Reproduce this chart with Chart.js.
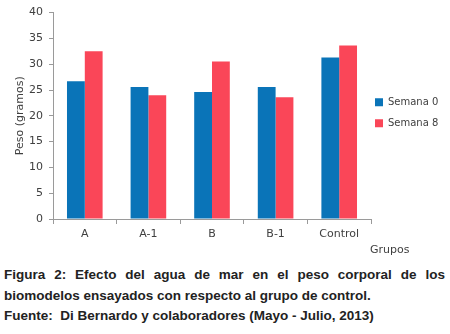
<!DOCTYPE html>
<html>
<head>
<meta charset="utf-8">
<script src="https://cdn.jsdelivr.net/npm/chart.js@4"></script>
<style>
    body { margin: 0; background: #fff; width: 450px; height: 334px; overflow: hidden; }
    #wrap { position: relative; width: 450px; height: 256px; }
    #grupos { position: absolute; left: 370px; top: 243px; font: 11px "DejaVu Sans", sans-serif; color: #404040; }
    #caption { font: bold 13.5px "Liberation Sans", Arial, sans-serif; color: #222; padding: 0 5px 0 4px; line-height: 20.5px; margin-top: 9px; }
    #caption .j { text-align: justify; text-align-last: justify; }
</style>
</head>
<body>
<div id="wrap">
    <canvas id="chart" width="450" height="256"></canvas>
    <div id="grupos">Grupos</div>
</div>
<div id="caption">
    <div class="j">Figura 2: Efecto del agua de mar en el peso corporal de los</div>
    <div>biomodelos ensayados con respecto al grupo de control.</div>
    <div>Fuente:&nbsp; Di Bernardo y colaboradores (Mayo - Julio, 2013)</div>
</div>
<script>
const groups = ['A', 'A-1', 'B', 'B-1', 'Control'];
const semana0 = [26.7, 25.6, 24.6, 25.6, 31.3];
const semana8 = [32.5, 24.0, 30.5, 23.6, 33.6];
const seriesNames = ['Semana 0', 'Semana 8'];

document.addEventListener('DOMContentLoaded', function() {
    const ctx = document.getElementById('chart');
    const textColor = '#404040';
    const axisColor = '#9a9a9a';

    // nudge the legend a bit closer to the plot, like the original
    const legendShift = {
        id: 'legendShift',
        beforeDraw: function(chart) {
            const lg = chart.legend;
            lg.left = chart.chartArea.right - 7;
            lg.top = chart.chartArea.top - 3;
            lg.bottom = chart.chartArea.bottom - 3;
        }
    };

    new Chart(ctx, {
        type: 'bar',
        data: {
            labels: groups,
            datasets: [{
                label: seriesNames[0],
                data: semana0,
                backgroundColor: '#0a74b8',
                categoryPercentage: 0.56,
                barPercentage: 1.0
            }, {
                label: seriesNames[1],
                data: semana8,
                backgroundColor: '#fa4658',
                categoryPercentage: 0.56,
                barPercentage: 1.0
            }]
        },
        plugins: [legendShift],
        options: {
            responsive: false,
            animation: false,
            layout: { padding: { top: 12, right: 0, left: 0, bottom: 0 } },
            plugins: {
                tooltip: { enabled: false },
                legend: {
                    position: 'right',
                    fullSize: false,
                    maxWidth: 79,
                    labels: {
                        boxWidth: 8,
                        boxHeight: 8,
                        padding: 11,
                        color: textColor,
                        font: { family: 'DejaVu Sans', size: 10 }
                    }
                }
            },
            scales: {
                x: {
                    grid: { drawOnChartArea: false, drawTicks: true, tickLength: 5, color: axisColor },
                    border: { color: axisColor },
                    ticks: { color: textColor, font: { family: 'DejaVu Sans', size: 11 }, padding: 4 },
                    afterFit: function(scale) { scale.height = 37; }
                },
                y: {
                    min: 0,
                    max: 40,
                    ticks: { stepSize: 5, color: textColor, font: { family: 'DejaVu Sans', size: 11 }, padding: 6 },
                    grid: { drawOnChartArea: false, drawTicks: true, tickLength: 4, color: axisColor },
                    border: { color: axisColor },
                    title: {
                        display: true,
                        text: 'Peso (gramos)',
                        color: textColor,
                        font: { family: 'DejaVu Sans', size: 11 },
                        padding: { top: 14, bottom: 0 }
                    },
                    afterFit: function(scale) { scale.width = 53; }
                }
            }
        }
    });
});
</script>
</body>
</html>
